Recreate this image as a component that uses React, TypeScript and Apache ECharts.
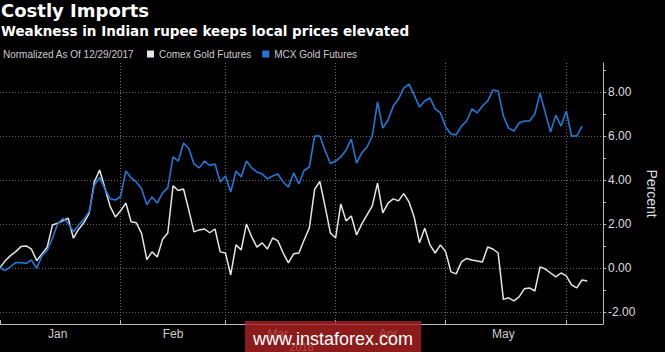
import React, { useEffect, useRef } from "react";
import * as echarts from "echarts";

// Trading days (Dec 29, 2017 = normalization date)
const dates: string[] = [
  "2017-12-29",
  "2018-01-02", "2018-01-03", "2018-01-04", "2018-01-05",
  "2018-01-08", "2018-01-09", "2018-01-10", "2018-01-11", "2018-01-12",
  "2018-01-15", "2018-01-16", "2018-01-17", "2018-01-18", "2018-01-19",
  "2018-01-22", "2018-01-23", "2018-01-24", "2018-01-25", "2018-01-26",
  "2018-01-29", "2018-01-30", "2018-01-31",
  "2018-02-01", "2018-02-02",
  "2018-02-05", "2018-02-06", "2018-02-07", "2018-02-08", "2018-02-09",
  "2018-02-12", "2018-02-13", "2018-02-14", "2018-02-15", "2018-02-16",
  "2018-02-19", "2018-02-20", "2018-02-21", "2018-02-22", "2018-02-23",
  "2018-02-26", "2018-02-27", "2018-02-28",
  "2018-03-01", "2018-03-02",
  "2018-03-05", "2018-03-06", "2018-03-07", "2018-03-08", "2018-03-09",
  "2018-03-12", "2018-03-13", "2018-03-14", "2018-03-15", "2018-03-16",
  "2018-03-19", "2018-03-20", "2018-03-21", "2018-03-22", "2018-03-23",
  "2018-03-26", "2018-03-27", "2018-03-28", "2018-03-29",
  "2018-04-02", "2018-04-03", "2018-04-04", "2018-04-05", "2018-04-06",
  "2018-04-09", "2018-04-10", "2018-04-11", "2018-04-12", "2018-04-13",
  "2018-04-16", "2018-04-17", "2018-04-18", "2018-04-19", "2018-04-20",
  "2018-04-23", "2018-04-24", "2018-04-25", "2018-04-26", "2018-04-27",
  "2018-04-30",
  "2018-05-01", "2018-05-02", "2018-05-03", "2018-05-04",
  "2018-05-07", "2018-05-08", "2018-05-09", "2018-05-10", "2018-05-11",
  "2018-05-14", "2018-05-15", "2018-05-16", "2018-05-17", "2018-05-18",
  "2018-05-21", "2018-05-22", "2018-05-23", "2018-05-24", "2018-05-25",
  "2018-05-28", "2018-05-29", "2018-05-30", "2018-05-31",
  "2018-06-01",
  "2018-06-04", "2018-06-05", "2018-06-06", "2018-06-07", "2018-06-08",
  "2018-06-11", "2018-06-12",
];

const comexGold: number[] = [
  0.0, 0.33, 0.56, 0.74, 0.97, 1.0, 0.85, 0.33, 0.64, 0.94,
  1.95, 2.03, 2.15, 2.26, 1.35, 1.76, 2.06, 2.48, 3.92, 4.45,
  3.64, 2.8, 2.32, 2.6, 2.95, 2.1, 2.05, 1.57, 0.38, 0.73,
  0.5, 1.3, 1.59, 3.73, 3.52, 3.59, 2.64, 1.64, 1.73, 1.77,
  1.6, 1.77, 0.73, 0.68, -0.32, 1.05, 0.82, 2.0, 1.41, 0.95,
  1.14, 0.86, 1.36, 1.23, 0.68, 0.23, 0.64, 0.68, 1.27, 1.82,
  3.57, 3.93, 2.8, 1.59, 1.36, 2.91, 2.14, 2.36, 1.5, 2.0,
  2.41, 2.82, 3.86, 2.5, 2.95, 3.14, 3.05, 3.38, 3.0, 2.3,
  1.14, 1.8, 1.05, 0.68, 1.05, 0.73, -0.18, -0.27, 0.27, 0.43,
  0.36, 0.32, 0.27, 0.95, 0.86, 0.68, -1.43, -1.36, -1.5, -1.32,
  -0.95, -0.91, -1.05, 0.05, -0.05, -0.23, -0.41, -0.23, -0.36, -0.77,
  -0.91, -0.55, -0.59,
];

const mcxGold: number[] = [
  0.0, -0.12, 0.06, 0.24, 0.24, 0.21, 0.36, -0.02, 0.55, 0.79,
  1.35, 2.0, 2.26, 2.03, 1.65, 1.95, 2.21, 2.56, 3.77, 4.12,
  3.6, 3.15, 3.09, 3.25, 4.41, 4.09, 3.91, 3.6, 2.88, 3.23,
  2.95, 3.41, 3.64, 5.05, 4.86, 5.68, 5.43, 4.73, 4.55, 4.86,
  4.66, 4.73, 3.91, 4.18, 3.45, 4.41, 4.14, 4.86, 4.55, 4.36,
  4.27, 4.05, 4.18, 4.27, 3.91, 3.68, 4.32, 3.82, 4.43, 4.59,
  6.0, 6.0, 5.34, 4.75, 4.86, 5.05, 5.36, 5.86, 4.77, 5.23,
  5.5, 6.0, 7.55, 6.36, 6.73, 7.36, 7.68, 8.18, 8.36, 7.86,
  7.32, 7.59, 7.73, 7.23, 7.05, 6.41, 6.09, 6.05, 6.45, 6.68,
  7.23, 7.05, 7.36, 7.59, 8.09, 8.05, 6.91, 6.36, 6.23, 6.59,
  6.68, 6.68, 7.0, 7.95, 7.05, 6.18, 6.95, 6.45, 7.14, 6.0,
  6.0, 6.45,
];

const yLabelValues: number[] = [-2, 0, 2, 4, 6, 8];
const yTickValues: number[] = [-2, -1, 0, 1, 2, 3, 4, 5, 6, 7, 8, 9];
const monthAbbr: string[] = ["Jan", "Feb", "Mar", "Apr", "May", "Jun", "Jul", "Aug", "Sep", "Oct", "Nov", "Dec"];

const SANS = '"Liberation Sans", Arial, sans-serif';
const BOLD = '"DejaVu Sans", sans-serif';
const GRID_COLOR = "#6a6a6a";

function monthOf(i: number): number {
  return parseInt(dates[i].slice(5, 7), 10);
}

// month boundaries (first trading day of each month; index 0 = start of Jan)
const boundaries: number[] = [0];
for (let i = 2; i < dates.length; i++) {
  if (monthOf(i) !== monthOf(i - 1)) boundaries.push(i);
}
const labelIdx: Record<number, string> = {};
for (let k = 0; k < boundaries.length - 1; k++) {
  const mid = Math.floor((boundaries[k] + boundaries[k + 1]) / 2);
  labelIdx[mid] = monthAbbr[monthOf(mid) - 1];
}

export default function App() {
  const ref = useRef<HTMLDivElement>(null);
  useEffect(() => {
    if (!ref.current) return;
    const chart = echarts.init(ref.current, null, { renderer: "svg" });
    chart.setOption({
      animation: false,
      backgroundColor: "#000000",
      title: [
        {
          text: "Costly Imports",
          left: 1,
          top: 1,
          padding: 0,
          textStyle: { color: "#ffffff", fontSize: 18, fontWeight: "bold", fontFamily: BOLD },
        },
        {
          text: "Weakness in Indian rupee keeps local prices elevated",
          left: 1,
          top: 24,
          padding: 0,
          textStyle: { color: "#ffffff", fontSize: 13.5, fontWeight: "bold", fontFamily: BOLD },
        },
        {
          text: "Normalized As Of 12/29/2017",
          left: 3,
          top: 49,
          padding: 0,
          textStyle: { color: "#cccccc", fontSize: 10, fontWeight: "normal", fontFamily: SANS },
        },
      ],
      legend: {
        data: ["Comex Gold Futures", "MCX Gold Futures"],
        left: 147,
        top: 49,
        padding: 0,
        icon: "rect",
        itemWidth: 7,
        itemHeight: 7,
        itemGap: 11,
        textStyle: { color: "#cccccc", fontSize: 10, fontFamily: SANS },
      },
      grid: {
        left: 0,
        right: 62,
        top: 63,
        bottom: 28,
        containLabel: false,
        outerBoundsMode: "none",
      },
      xAxis: {
        type: "category",
        data: dates,
        boundaryGap: false,
        axisLine: { show: true, onZero: false, lineStyle: { color: "#bbbbbb", width: 1 } },
        axisTick: {
          show: true,
          inside: true,
          length: 4,
          interval: (i: number) => boundaries.indexOf(i) >= 0,
          lineStyle: { color: "#bbbbbb" },
        },
        axisLabel: {
          interval: (i: number) => labelIdx[i] !== undefined,
          formatter: (_v: string, i: number) => labelIdx[i] || "",
          color: "#cccccc",
          fontSize: 12,
          fontFamily: SANS,
          margin: 4,
        },
        splitLine: {
          show: true,
          interval: (i: number) => i > 0 && boundaries.indexOf(i) >= 0,
          lineStyle: { color: GRID_COLOR, type: [1, 2], width: 1 },
        },
        name: "2018",
        nameLocation: "middle",
        nameGap: 17,
        nameMoveOverlap: false,
        nameTextStyle: { color: "#cccccc", fontSize: 11, fontFamily: SANS },
      },
      yAxis: {
        type: "value",
        position: "right",
        min: -2.55,
        max: 9.32,
        axisLine: { show: true, onZero: false, lineStyle: { color: "#bbbbbb", width: 1 } },
        axisTick: {
          show: true,
          length: 3,
          customValues: yTickValues,
          lineStyle: { color: "#bbbbbb" },
        },
        axisLabel: {
          customValues: yLabelValues,
          formatter: (v: number) => v.toFixed(2),
          color: "#dddddd",
          fontSize: 12,
          fontFamily: SANS,
          margin: 5,
        },
        splitLine: { show: false },
        name: "Percent",
        nameLocation: "middle",
        nameRotate: -90,
        nameGap: 42,
        nameMoveOverlap: false,
        nameTextStyle: { color: "#dddddd", fontSize: 14, fontFamily: SANS },
      },
      series: [
        {
          name: "Comex Gold Futures",
          type: "line",
          data: comexGold,
          symbol: "none",
          color: "#e6e6e6",
          lineStyle: { color: "#e6e6e6", width: 1.5 },
          z: 3,
          markLine: {
            silent: true,
            symbol: ["none", "none"],
            label: { show: false },
            lineStyle: { color: GRID_COLOR, type: [1, 2], width: 1 },
            emphasis: { disabled: true },
            data: yLabelValues.map((v) => ({ yAxis: v })),
            z: 1,
          },
        },
        {
          name: "MCX Gold Futures",
          type: "line",
          data: mcxGold,
          symbol: "none",
          color: "#2079d6",
          lineStyle: { color: "#2079d6", width: 1.6 },
          z: 4,
        },
      ],
      graphic: [
        {
          type: "rect",
          shape: { x: 245, y: 321, width: 176, height: 31 },
          style: { fill: "rgba(175,35,35,0.8)" },
          z: 100,
        },
        {
          type: "text",
          x: 333,
          y: 339,
          style: {
            text: "www.instaforex.com",
            fill: "#ffffff",
            fontSize: 18,
            fontFamily: SANS,
            align: "center",
            verticalAlign: "middle",
          },
          z: 101,
        },
      ],
    });
    return () => chart.dispose();
  }, []);
  return (
    <div
      ref={ref}
      style={{ position: "fixed", left: 0, top: 0, width: 665, height: 352, background: "#000" }}
    />
  );
}
